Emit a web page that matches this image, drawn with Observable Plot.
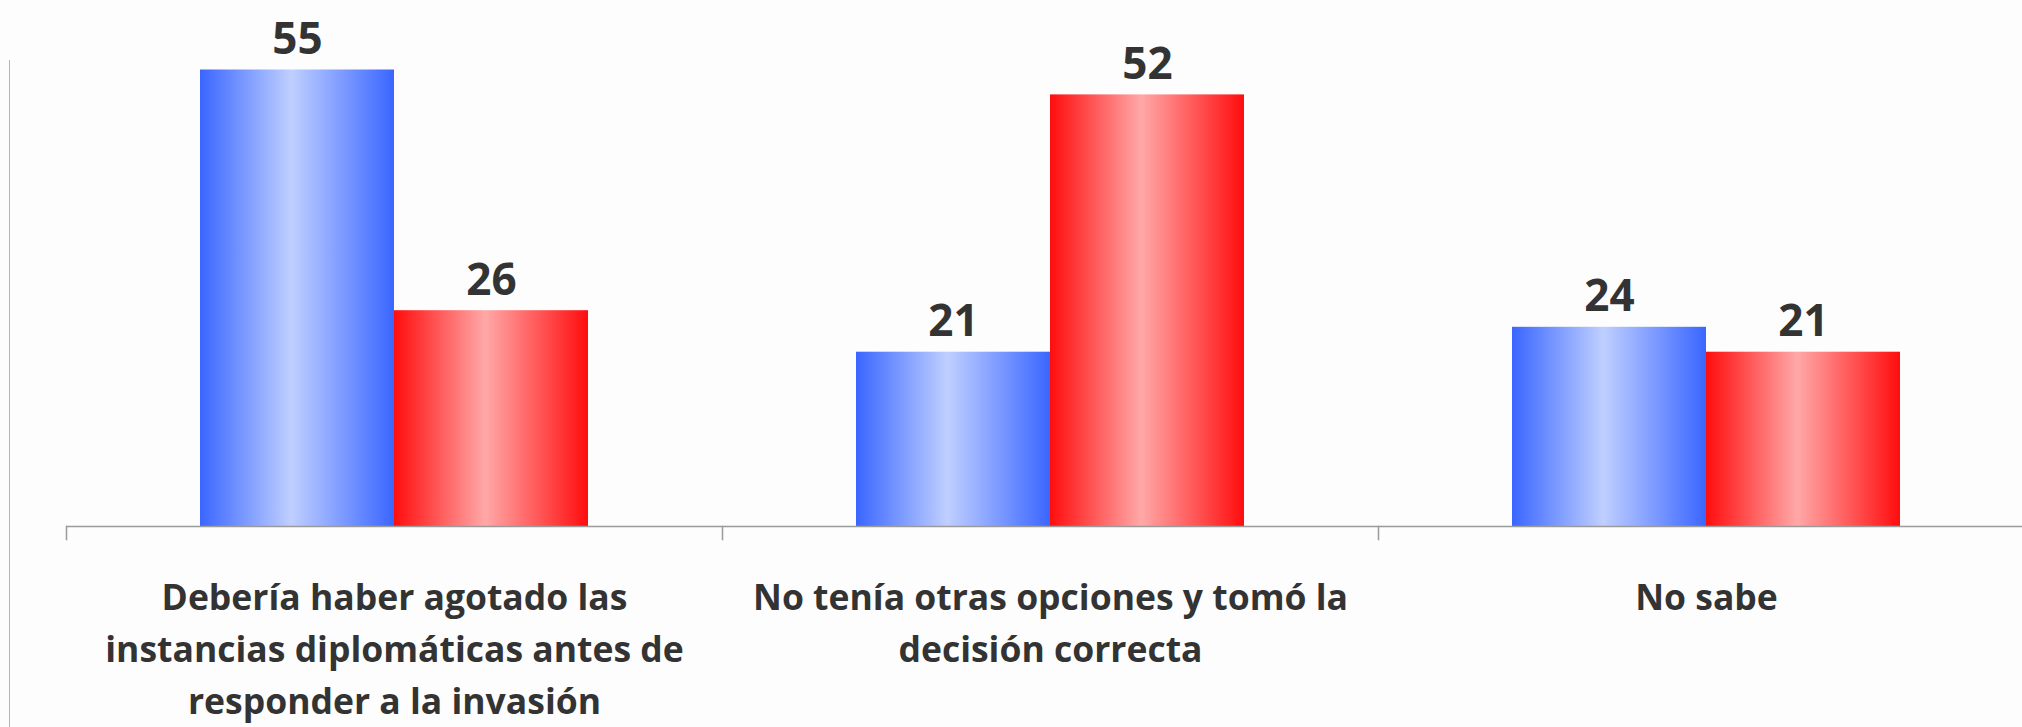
<!DOCTYPE html>
<html>
<head>
<meta charset="utf-8">
<script src="https://cdn.jsdelivr.net/npm/d3@7"></script>
<script src="https://cdn.jsdelivr.net/npm/@observablehq/plot@0.6"></script>
<style>
  html, body { margin: 0; padding: 0; background: #ffffff; overflow: hidden; }
  #wrap { position: relative; width: 2022px; height: 727px; overflow: hidden; background: #fdfdfd; }
  #edge { position: absolute; left: 9px; top: 60px; width: 1px; height: 667px; background: #b4b4b4; }
  #chart { position: absolute; left: 0; top: 0; width: 2034px; }
  #chart svg { max-width: none !important; }
</style>
</head>
<body>
<div id="wrap"><div id="edge"></div><div id="chart"></div></div>
<script>
// ---- Data ----
const categories = [
  "Debería haber agotado las instancias diplomáticas antes de responder a la invasión",
  "No tenía otras opciones y tomó la decisión correcta",
  "No sabe"
];
const categoryLabels = [
  "Debería haber agotado las\ninstancias diplomáticas antes de\nresponder a la invasión",
  "No tenía otras opciones y tomó la\ndecisión correcta",
  "No sabe"
];
const seriesNames = ["Serie 1", "Serie 2"];
const serie1Values = [55, 21, 24];
const serie2Values = [26, 52, 21];

// ---- Tables built from the arrays ----
const rows = [];
categories.forEach((c, i) => {
  rows.push({category: c, series: seriesNames[0], value: serie1Values[i]});
  rows.push({category: c, series: seriesNames[1], value: serie2Values[i]});
});
const labelRows = categories.map((c, i) => ({category: c, label: categoryLabels[i]}));

const textColor = "#333333";

const plot = Plot.plot({
  width: 2034,
  height: 727,
  marginLeft: 65,
  marginRight: 0,
  marginTop: 28,
  marginBottom: 201,
  style: {fontFamily: "'Open Sans', sans-serif", background: "transparent", maxWidth: "none"},
  fx: {domain: categories, padding: 0, axis: null},
  x: {domain: seriesNames, paddingInner: 0, paddingOuter: 0.69, axis: null},
  y: {domain: [0, 60], axis: null},
  marks: [
    Plot.barY(rows.filter(d => d.series === seriesNames[0]), {
      fx: "category", x: "series", y: "value", fill: "url(#gradBlue)"
    }),
    Plot.barY(rows.filter(d => d.series === seriesNames[1]), {
      fx: "category", x: "series", y: "value", fill: "url(#gradRed)"
    }),
    Plot.ruleY([0], {stroke: "#9a9a9a", strokeWidth: 1.5}),
    Plot.frame({anchor: "left", stroke: "#9a9a9a", strokeWidth: 1.5, insetTop: 498, insetBottom: -13}),
    Plot.text(rows, {
      fx: "category", x: "series", y: "value",
      text: d => String(d.value),
      dy: -30, lineAnchor: "middle",
      fontSize: 44, fontWeight: 700, fill: textColor
    }),
    Plot.text(labelRows, {
      fx: "category", text: "label",
      frameAnchor: "bottom", lineAnchor: "top", dy: 47,
      lineHeight: 1.465, fontSize: 35.5, fontWeight: 700, fill: textColor
    })
  ]
});

// gradient definitions used by the bars
const ns = "http://www.w3.org/2000/svg";
const defs = document.createElementNS(ns, "defs");
function addGrad(id, edge, light) {
  const g = document.createElementNS(ns, "linearGradient");
  g.setAttribute("id", id);
  g.setAttribute("x1", "0"); g.setAttribute("x2", "1");
  g.setAttribute("y1", "0"); g.setAttribute("y2", "0");
  [[0, edge], [0.47, light], [1, edge]].forEach(([o, c]) => {
    const s = document.createElementNS(ns, "stop");
    s.setAttribute("offset", o);
    s.setAttribute("stop-color", c);
    g.appendChild(s);
  });
  defs.appendChild(g);
}
addGrad("gradBlue", "#3a66ff", "#bfcfff");
addGrad("gradRed", "#ff0d0d", "#ffa8a8");
plot.insertBefore(defs, plot.firstChild);

document.getElementById("chart").appendChild(plot);
</script>
</body>
</html>
